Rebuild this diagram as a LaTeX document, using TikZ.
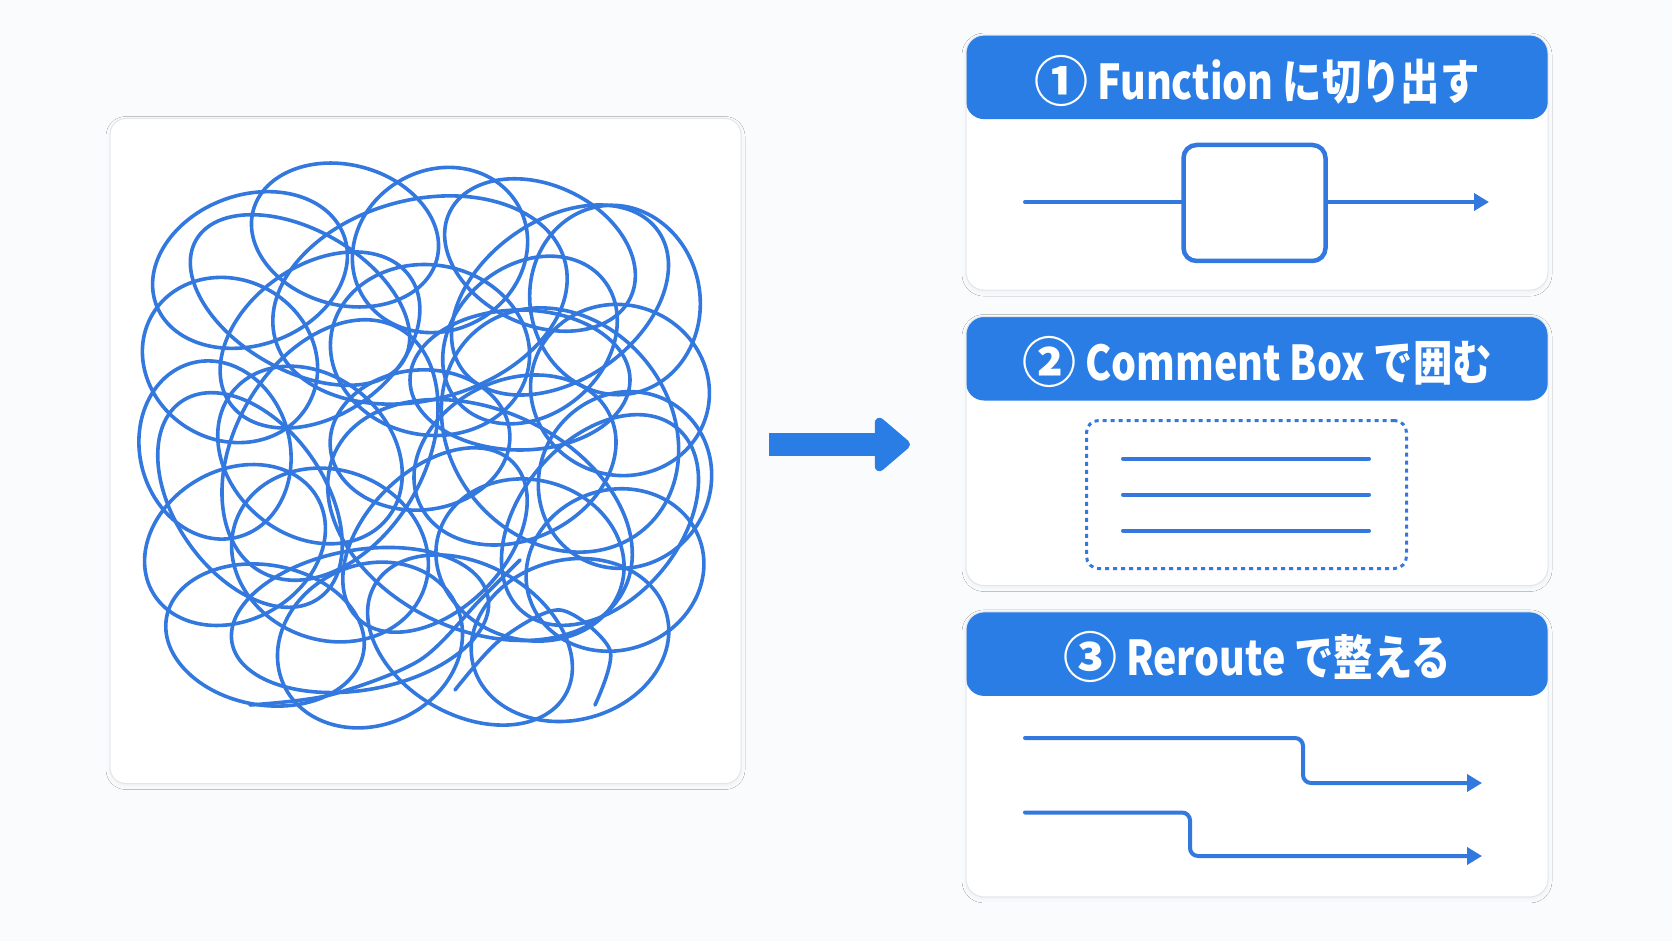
\documentclass[tikz,border=0pt]{standalone}
\usepackage{fontspec}
\setmainfont{Noto Sans CJK JP}
\newfontfamily\headfont{Noto Sans CJK JP}[FakeStretch=0.82]
\usetikzlibrary{arrows.meta,positioning,shadows.blur}
\definecolor{hdrblue}{RGB}{41,125,229}
\definecolor{inkblue}{RGB}{50,120,222}
\definecolor{pagebg}{RGB}{250,251,252}
\definecolor{rimgray}{RGB}{226,230,235}
\newcommand{\stepmark}[1]{{\normalfont\bfseries\fontsize{54}{56}\selectfont\raisebox{-2pt}{#1}}\hspace{9pt}}
\tikzstyle{panelbox} = [draw=rimgray, line width=1pt, fill=white, rounded corners=16pt,
    inner sep=0pt, blur shadow={shadow xshift=0pt, shadow yshift=-2pt, shadow opacity=5, shadow blur radius=4pt}]
\tikzstyle{cardbox} = [panelbox, rounded corners=18pt, minimum width=582pt,
    path picture={\fill[hdrblue] (path picture bounding box.north west) rectangle ([yshift=-84pt]path picture bounding box.north east);}]
\tikzstyle{cardtitle} = [text=white, font=\headfont\bfseries\fontsize{48}{52}\selectfont, inner sep=0pt]
\tikzstyle{scrib} = [draw=inkblue, line width=3.6pt]
\tikzstyle{wire} = [draw=inkblue, line width=4pt, line cap=round]
\tikzstyle{flow} = [wire, -{Triangle[length=15pt,width=17pt]}]

\begin{document}
\begin{tikzpicture}[x=1pt, y=-1pt]
                \fill[pagebg] (0,0) rectangle (1672,941);
                \useasboundingbox (0,0) rectangle (1672,941);

                \node[panelbox, minimum width=631pt, minimum height=665pt] (tangle) at (425.5,451) {};
                \foreach \cx/\cy/\rx/\ry/\a in {
                    250/270/100/75/20, 345/235/95/70/-15, 440/250/90/80/30, 540/255/100/70/-25,
                    615/300/85/95/10, 230/360/90/80/-30, 320/340/110/75/35, 430/350/100/85/-10,
                    530/340/95/75/40, 620/390/90/85/-20, 215/450/75/90/15, 310/455/100/80/-40,
                    420/440/90/70/5, 515/460/105/80/25, 625/480/85/90/-35, 235/545/95/75/30,
                    330/555/100/85/-20, 435/540/110/70/45, 530/560/95/80/-15, 615/570/90/80/20,
                    265/635/100/70/-10, 370/645/95/80/25, 470/640/110/75/-30, 570/640/100/80/15,
                    420/300/150/100/15, 480/520/160/110/-25, 330/450/140/95/60, 560/430/130/110/-50,
                    300/300/120/70/-30, 560/300/120/80/35, 250/500/120/75/-55, 600/520/120/80/50,
                    360/620/130/70/10, 520/380/110/70/0}
                    \draw[scrib] (\cx,\cy) ellipse [x radius=\rx, y radius=\ry, rotate=\a];
                \draw[scrib, line cap=round] plot[smooth] coordinates {(250,705) (330,695) (420,660) (480,600) (520,560)};
                \draw[scrib, line cap=round] plot[smooth] coordinates {(455,690) (500,640) (560,610) (610,650) (595,705)};

                \coordinate (gofrom) at (769,444.5);
                \coordinate (goto) at (910,444.5);
                \draw[hdrblue, line width=23pt, -{Triangle[length=38pt,width=62pt,round]}] (gofrom) -- (goto);

                \node[cardbox, minimum height=255pt] (card1) at (1257,162.6) {};
                \node[cardbox, minimum height=269pt] (card2) at (1257,451) {};
                \node[cardbox, minimum height=285pt] (card3) at (1257,754.4) {};

                \node[cardtitle] (title1) at ([yshift=-46pt]card1.north) {\stepmark{①}Function に切り出す};
                \node[cardtitle] (title2) at ([yshift=-46pt]card2.north) {\stepmark{②}Comment Box で囲む};
                \node[cardtitle] (title3) at ([yshift=-46pt]card3.north) {\stepmark{③}Reroute で整える};

                \node[draw=inkblue, line width=4.5pt, rounded corners=13pt, minimum width=142pt,
                    minimum height=116pt] (fn) at (1254.5,203) {};
                \coordinate (fnin) at (1025,202);
                \coordinate (fnout) at (1489,202);
                \draw[wire] (fnin) -- (fn.west |- fnin);
                \draw[flow] (fn.east |- fnout) -- (fnout);

                \node[draw=inkblue, line width=3pt, dash pattern=on 4pt off 4pt, rounded corners=12pt,
                    minimum width=320pt, minimum height=148pt] (cbox) at (1246.5,494.5) {};
                \foreach \dy in {36,0,-36}
                    \draw[wire] ([xshift=38pt,yshift=\dy pt]cbox.west) -- ([xshift=-39pt,yshift=\dy pt]cbox.east);

                \coordinate (ra) at (1025,738);
                \coordinate (rb) at (1482,783);
                \coordinate (rc) at (1025,812.5);
                \coordinate (rd) at (1482,856);
                \draw[flow, rounded corners=8pt] (ra) -- ++(278,0) |- (rb);
                \draw[flow, rounded corners=8pt] (rc) -- ++(165,0) |- (rd);
            \end{tikzpicture}
\end{document}
